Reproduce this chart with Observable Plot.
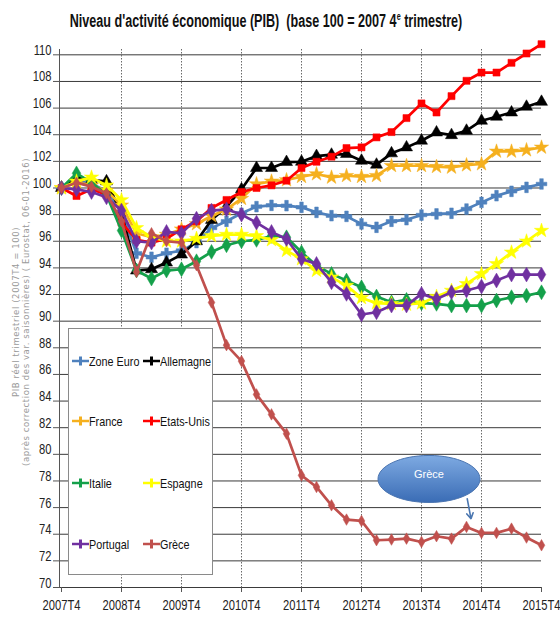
<!DOCTYPE html>
<html><head><meta charset="utf-8">
<script src="https://cdn.jsdelivr.net/npm/d3@7"></script>
<script src="https://cdn.jsdelivr.net/npm/@observablehq/plot@0.6"></script>
<style>
body{margin:0;background:#fff;}
#wrap{position:relative;width:560px;height:619px;font-family:"Liberation Sans",Arial,sans-serif;}
#title{position:absolute;left:266px;top:11px;font-weight:bold;font-size:17.5px;white-space:pre;color:#111;transform:translateX(-50%) scaleX(0.72);}
#title sup{font-size:10px;}
.ylab{position:absolute;left:0;top:0;white-space:nowrap;font-family:"DejaVu Sans",sans-serif;font-size:8.5px;color:#9a9a9a;letter-spacing:0.6px;transform-origin:0 0;}
#legend{position:absolute;left:68px;top:328px;width:145px;height:247px;border:1px solid #8a8a8a;background:#fff;box-sizing:border-box;}
.li{position:absolute;display:flex;align-items:center;font-size:13.5px;color:#111;height:20px;white-space:nowrap;}
.li span{display:inline-block;transform:scaleX(0.8);transform-origin:0 50%;}
</style></head>
<body><div id="wrap">
<div id="title">Niveau d'activité économique (PIB)  (base 100 = 2007 4<sup>e</sup> trimestre)</div>
</div>
<script>
const tickLabels = ["2007T4","2008T4","2009T4","2010T4","2011T4","2012T4","2013T4","2014T4","2015T4"];
const yTicks = [70,72,74,76,78,80,82,84,86,88,90,92,94,96,98,100,102,104,106,108,110];
const seriesNames = ["Zone Euro","Allemagne","France","Etats-Unis","Italie","Espagne","Portugal","Grèce"];
const zoneEuro = [100,100.6,100.3,99.8,98.2,95.1,94.8,95.1,95.3,95.9,97.0,97.5,98.1,98.6,98.7,98.67,98.55,98.17,97.92,97.87,97.3,97.05,97.5,97.62,97.97,98.05,98.1,98.42,98.92,99.42,99.75,100.05,100.3];
const allemagne = [100,100.8,100.6,100.5,98.1,93.8,93.9,94.4,95.0,96.0,97.6,98.6,99.9,101.5,101.5,101.95,101.97,102.4,102.5,102.55,102.05,101.75,102.6,103.05,103.55,104.17,103.97,104.3,105.05,105.35,105.67,106.1,106.47];
const france = [100,100.4,100.2,99.8,98.7,96.6,96.3,96.5,96.9,97.3,97.9,98.4,99.2,100.3,100.5,100.6,100.85,101.05,100.8,100.92,100.85,100.92,101.67,101.67,101.67,101.6,101.55,101.72,101.8,102.75,102.75,102.85,103.05];
const etatsUnis = [100,99.4,99.9,99.5,97.4,96.1,95.9,96.2,96.9,97.5,98.5,99.1,99.7,100.0,100.2,100.55,101.5,101.97,102.35,103.0,103.05,103.8,104.2,105.25,106.35,105.67,106.9,108.05,108.67,108.67,109.4,110.1,110.8];
const italie = [100,101.1,100.4,99.5,96.8,93.8,93.2,93.8,93.9,94.5,95.2,95.7,96.0,96.1,96.4,96.3,95.17,94.17,93.55,93.05,92.55,91.85,91.42,91.6,91.35,91.3,91.17,91.17,91.17,91.55,91.8,91.92,92.17];
const espagne = [100,100.5,100.8,100.2,99.1,97.0,96.3,96.0,96.0,96.2,96.4,96.5,96.5,96.4,96.1,95.3,94.67,93.8,93.3,92.67,91.75,91.35,91.3,91.25,91.35,91.85,92.3,92.8,93.55,94.3,95.17,96.0,96.8];
const portugal = [100,99.9,99.7,99.3,98.3,96.0,95.9,96.7,96.6,97.7,98.3,98.4,98.0,97.4,96.7,96.17,94.67,94.3,92.92,92.05,90.5,90.67,91.17,91.17,92.05,91.67,92.17,92.3,92.6,93.05,93.5,93.5,93.5];
const grece = [100,100.4,100.1,99.6,97.5,93.7,96.6,96.0,95.9,94.2,91.4,88.2,87.0,84.5,83.0,81.55,78.42,77.55,76.17,75.1,75.0,73.55,73.6,73.67,73.42,73.85,73.67,74.55,74.1,74.1,74.42,73.75,73.17];
const annotationText = "Grèce";

const values = [zoneEuro,allemagne,france,etatsUnis,italie,espagne,portugal,grece];
const colors = ["#4f81bd","#000000","#f5b01e","#ff0000","#14a04a","#ffff00","#7030a0","#c0504d"];
const symbols = ["cross","triangle","star","square","diamond","star","diamond","diamond"];
const radii = [4.5,4.5,4.5,4,4.5,4.5,4.5,3.5];

const yearIdx = tickLabels.map((d,k)=>k*4);
const marks = [
  Plot.ruleY(yTicks, {stroke:"#3a3a3a", strokeWidth:1}),
  Plot.ruleX(yearIdx.slice(1,-1), {stroke:"#6a6a6a", strokeDasharray:"1.5,1.5"}),
  Plot.frame({anchor:"left", stroke:"#555"}),
  Plot.axisX({ticks:yearIdx, tickFormat:(d)=>tickLabels[d/4], tickSize:5, tickPadding:13, fontSize:14, stroke:"#555", color:"#222"}),
  Plot.axisY({ticks:yTicks, tickSize:6, tickPadding:2, fontSize:14, stroke:"#555", color:"#222"}),
];
values.forEach((vals, s) => {
  const data = vals.map((v,i)=>({i, v}));
  marks.push(Plot.line(data, {x:"i", y:"v", stroke:colors[s], strokeWidth:2.7}));
  marks.push(Plot.dot(data, {x:"i", y:"v", fill:colors[s], stroke:colors[s], strokeWidth:0.5, symbol:symbols[s], r:radii[s]}));
});
const ellipseSym = {draw(ctx){const rx=51,ry=23.5,k=0.5523;ctx.moveTo(rx,0);ctx.bezierCurveTo(rx,ry*k,rx*k,ry,0,ry);ctx.bezierCurveTo(-rx*k,ry,-rx,ry*k,-rx,0);ctx.bezierCurveTo(-rx,-ry*k,-rx*k,-ry,0,-ry);ctx.bezierCurveTo(rx*k,-ry,rx,-ry*k,rx,0);ctx.closePath();}};
marks.push(Plot.dot([{x:24.5,y:78.15}], {x:"x", y:"y", symbol:ellipseSym, fill:"url(#grecGrad)", stroke:"#4a74b0", strokeWidth:1}));
marks.push(Plot.text([{x:24.5,y:78.5,t:annotationText}], {x:"x", y:"y", text:"t", fill:"#fff", fontSize:11}));
marks.push(Plot.arrow([{x1:27.05,y1:76.66,x2:27.3,y2:75.16}], {x1:"x1",y1:"y1",x2:"x2",y2:"y2", stroke:"#4a76b0", strokeWidth:1.6, headLength:6}));

const chart = Plot.plot({
  width:560, height:619,
  marginTop:49, marginBottom:32, marginLeft:59, marginRight:19,
  style:{fontFamily:'"Liberation Sans",Arial,sans-serif', background:"transparent"},
  x:{type:"linear", domain:[0,32], insetLeft:2, axis:null},
  y:{domain:[70,110.4], axis:null},
  marks
});
// condense axis tick labels horizontally (narrow font look)
const condense = (sel, dy) => chart.querySelectorAll(sel).forEach(t=>{
  const x=+t.getAttribute("x")||0, y=+t.getAttribute("y")||0, tr=t.getAttribute("transform")||"";
  t.removeAttribute("x"); t.removeAttribute("y");
  t.setAttribute("transform", `${tr} translate(${x},${y+dy}) scale(0.8,1)`);
});
condense('g[aria-label="x-axis tick label"] text', 4);
condense('g[aria-label="y-axis tick label"] text', 0);
const ns = "http://www.w3.org/2000/svg";
const defs = document.createElementNS(ns,"defs");
defs.innerHTML = '<linearGradient id="grecGrad" x1="0" y1="0" x2="0" y2="1"><stop offset="0" stop-color="#7eaae2"/><stop offset="1" stop-color="#3a6cb5"/></linearGradient>';
chart.insertBefore(defs, chart.firstChild);
const wrap = document.getElementById("wrap");
chart.style.position="absolute"; chart.style.left="0"; chart.style.top="0";
wrap.insertBefore(chart, wrap.firstChild);

// y-axis title (two lines, rotated)
const ylines = ["PIB réel trimestriel (2007T4 = 100)","(après correction des var. saisonnières) ( Eurostat, 06-01-2016)"];
const ycx = [16, 26];
ylines.forEach((t,k)=>{
  const d=document.createElement("div"); d.className="ylab"; d.textContent=t; wrap.appendChild(d);
  const w=d.offsetWidth, h=d.offsetHeight;
  d.style.transform=`translate(${ycx[k]-h/2}px, ${312+w/2}px) rotate(-90deg)`;
});

// legend
const lg=document.createElement("div"); lg.id="legend"; wrap.appendChild(lg);
const rowY=[22,82,144,205], colX=[3,74];
seriesNames.forEach((name,s)=>{
  const it=document.createElement("div"); it.className="li";
  it.style.left=colX[s%2]+"px"; it.style.top=rowY[Math.floor(s/2)]+"px";
  it.innerHTML=`<svg width="17" height="12"><line x1="0" y1="6" x2="17" y2="6" stroke="${colors[s]}" stroke-width="2.5"/><line x1="8.5" y1="1.5" x2="8.5" y2="10.5" stroke="${colors[s]}" stroke-width="3"/></svg><span>${name}</span>`;
  lg.appendChild(it);
});
</script>
</body></html>
